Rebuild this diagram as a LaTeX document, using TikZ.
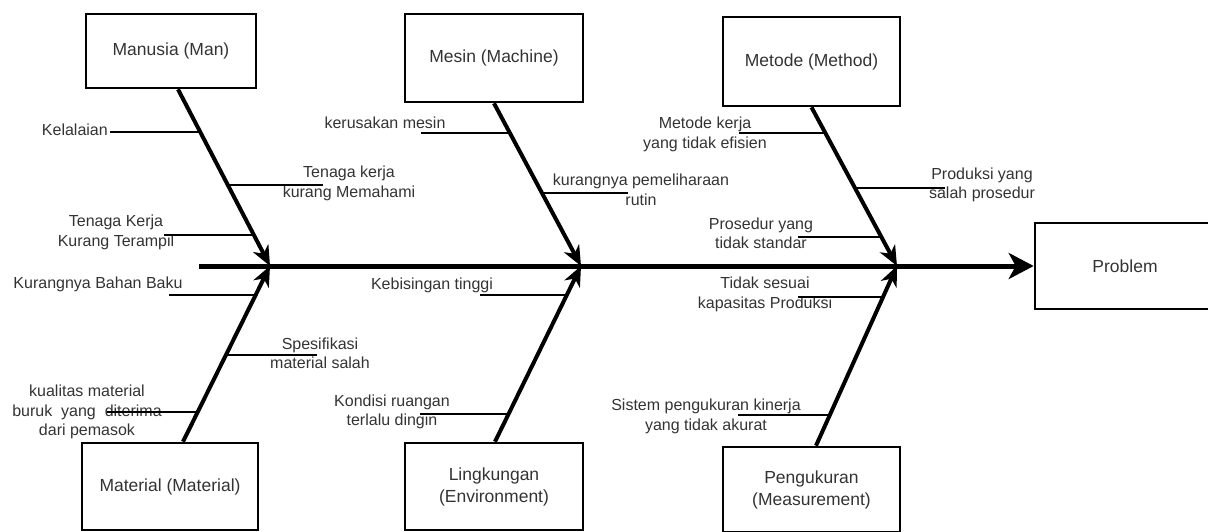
\documentclass[tikz,border=0pt]{standalone}
\usepackage{fontspec}
\setmainfont{Liberation Sans}
\usetikzlibrary{arrows.meta,calc}
\begin{document}
\begin{tikzpicture}[x=1pt,y=-1pt,
  box/.style={draw=black, line width=2.6pt, inner sep=0pt, align=center,
    font=\fontsize{17.5}{22}\selectfont, text=black!80},
  lbl/.style={inner sep=0pt, align=center, font=\fontsize{16}{19.5}\selectfont, text=black!80},
  bone/.style={line width=4pt, -{Stealth[length=20pt,width=17pt,inset=6pt]}},
  spineline/.style={line width=5pt, -{Stealth[length=25pt,width=26pt,inset=7pt]}},
  twig/.style={line width=2pt}]
\useasboundingbox (0,0) rectangle (1208,532);
% boxes
\node[box, minimum width=170pt, minimum height=74pt] (man) at (171,51) {Manusia (Man)};
\node[box, minimum width=178pt, minimum height=88pt] (mesin) at (494,58) {Mesin (Machine)};
\node[box, minimum width=177pt, minimum height=89pt] (metode) at (811.5,61.5) {Metode (Method)};
\node[box, minimum width=200pt, minimum height=86pt] (problem) at (1135,266) {\hspace*{-20pt}Problem};
\node[box, minimum width=176pt, minimum height=87pt] (material) at (170,486.5) {Material (Material)};
\node[box, minimum width=178pt, minimum height=87pt] (lingk) at (494,486.5) {Lingkungan\\(Environment)};
\node[box, minimum width=177pt, minimum height=85pt] (ukur) at (811.5,489.5) {Pengukuran\\(Measurement)};
% junctions on the spine
\coordinate (s0) at (199,266);
\coordinate (jA) at (270,266);
\coordinate (jB) at (581,266);
\coordinate (jC) at (897,266);
% spine and bones
\draw[spineline] (s0) -- (problem.west);
\draw[bone] ([xshift=7pt]man.south) -- (jA);
\draw[bone] (mesin.south) -- (jB);
\draw[bone] (metode.south) -- (jC);
\draw[bone] ([xshift=13pt]material.north) -- (jA);
\draw[bone] ([xshift=1pt]lingk.north) -- (jB);
\draw[bone] ([xshift=4.5pt]ukur.north) -- (jC);
% labels
\node[lbl, anchor=east] (l1) at (108,130) {Kelalaian};
\node[lbl] (l2) at (349,183.5) {Tenaga kerja\\kurang Memahami};
\node[lbl] (l3) at (116,232.5) {Tenaga Kerja\\Kurang Terampil};
\node[lbl] (l4) at (385,123) {kerusakan mesin};
\node[lbl] (l5) at (641,190) {kurangnya pemeliharaan\\rutin};
\node[lbl] (l6) at (705,134.5) {Metode kerja\\yang tidak efisien};
\node[lbl] (l7) at (982,185) {Produksi yang\\salah prosedur};
\node[lbl] (l8) at (761,233.5) {Prosedur yang\\tidak standar};
\node[lbl] (l9) at (98,284) {Kurangnya Bahan Baku};
\node[lbl] (l10) at (320,353.5) {Spesifikasi\\material salah};
\node[lbl] (l11) at (87,412) {kualitas material\\buruk\ \ yang\ \ diterima\\dari pemasok};
\node[lbl] (l12) at (432,285) {Kebisingan tinggi};
\node[lbl] (l13) at (392,412) {Kondisi ruangan\\terlalu dingin};
\node[lbl] (l14) at (765,294.5) {Tidak sesuai\\kapasitas Produksi};
\node[lbl] (l15) at (706,416.5) {Sistem pengukuran kinerja\\yang tidak akurat};
% twig coordinates (bone point, free end)
\coordinate (b1) at (200.7,132);  \coordinate (e1) at (110,132);
\coordinate (b2) at (228.1,185);  \coordinate (e2) at (323,185);
\coordinate (b3) at (254.0,235);  \coordinate (e3) at (164,235);
\coordinate (b4) at (510.4,133);  \coordinate (e4) at (421,133);
\coordinate (b5) at (542.2,193);  \coordinate (e5) at (628,193);
\coordinate (b6) at (826.3,133);  \coordinate (e6) at (739,133);
\coordinate (b7) at (855.6,188);  \coordinate (e7) at (945,188);
\coordinate (b8) at (881.6,237);  \coordinate (e8) at (798,237);
\coordinate (b9) at (255.7,295);  \coordinate (e9) at (169,295);
\coordinate (b10) at (226.3,355); \coordinate (e10) at (317,355);
\coordinate (b11) at (198.2,412); \coordinate (e11) at (107,412);
\coordinate (b12) at (566.0,295); \coordinate (e12) at (480,295);
\coordinate (b13) at (508.9,414); \coordinate (e13) at (420,414);
\coordinate (b14) at (883.1,297); \coordinate (e14) at (798,297);
\coordinate (b15) at (830.3,415); \coordinate (e15) at (738,415);
\foreach \i in {1,...,15} {\draw[twig] (e\i) -- (b\i);}
\end{tikzpicture}
\end{document}
